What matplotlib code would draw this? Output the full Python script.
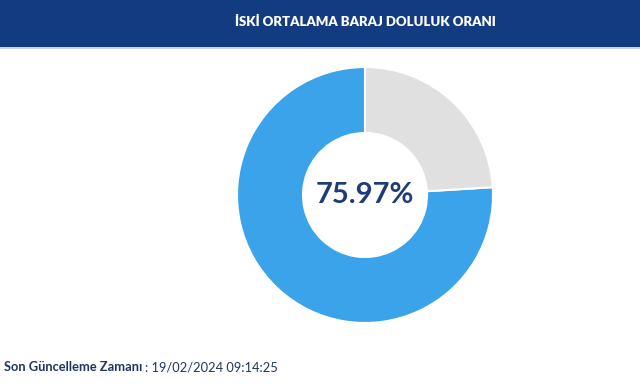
import matplotlib.pyplot as plt
from matplotlib.patches import Rectangle

# doluluk orani
labels = ["Dolu", "Bos"]
values = [75.97, 24.03]
colors = ["#3ba3e9", "#e0e0e0"]
title = "İSKİ ORTALAMA BARAJ DOLULUK ORANI"
updateLabel = "Son Güncelleme Zamanı"
updateTime = "19/02/2024 09:14:25"

W, H = 640, 390
fig = plt.figure(figsize=(W / 100, H / 100), dpi=100)
fig.patch.set_facecolor("white")

# background axes in pixel coordinates
bg = fig.add_axes([0, 0, 1, 1])
bg.set_xlim(0, W)
bg.set_ylim(H, 0)
bg.axis("off")
bg.add_patch(Rectangle((0, 0), W, 47, color="#133b82", lw=0))
bg.add_patch(Rectangle((0, 47), W, 1.5, color="#c9d3e3", lw=0))
bg.text(365, 22, title, color="white", fontsize=9.5, fontweight="heavy",
        family="Lato", ha="center", va="center")

t = bg.text(4, 367, updateLabel, color="#1f3563", fontsize=9.3,
            fontweight="bold", family="Lato", ha="left", va="center")
fig.canvas.draw()
bb = t.get_window_extent()
bg.text(bb.x1 + 3, 367, ": " + updateTime, color="#1f3563", fontsize=9.3,
        family="Lato", ha="left", va="center")

# donut
cx, cy, R, r = 365, 195, 128, 62
pie_ax = fig.add_axes([(cx - R) / W, (H - cy - R) / H, 2 * R / W, 2 * R / H])
pie_ax.pie(values, colors=colors, startangle=90, counterclock=True,
           radius=1.0,
           wedgeprops=dict(width=(R - r) / R, edgecolor="white", linewidth=1.5))
pie_ax.set_xlim(-1, 1)
pie_ax.set_ylim(-1, 1)
pie_ax.set_aspect("equal")
pie_ax.axis("off")
pie_ax.text(0, 0, f"{values[0]:.2f}%", color="#1f3b78", fontsize=21,
            fontweight="bold", family="Lato", ha="center", va="center")

fig.savefig("out.png", dpi=100)
